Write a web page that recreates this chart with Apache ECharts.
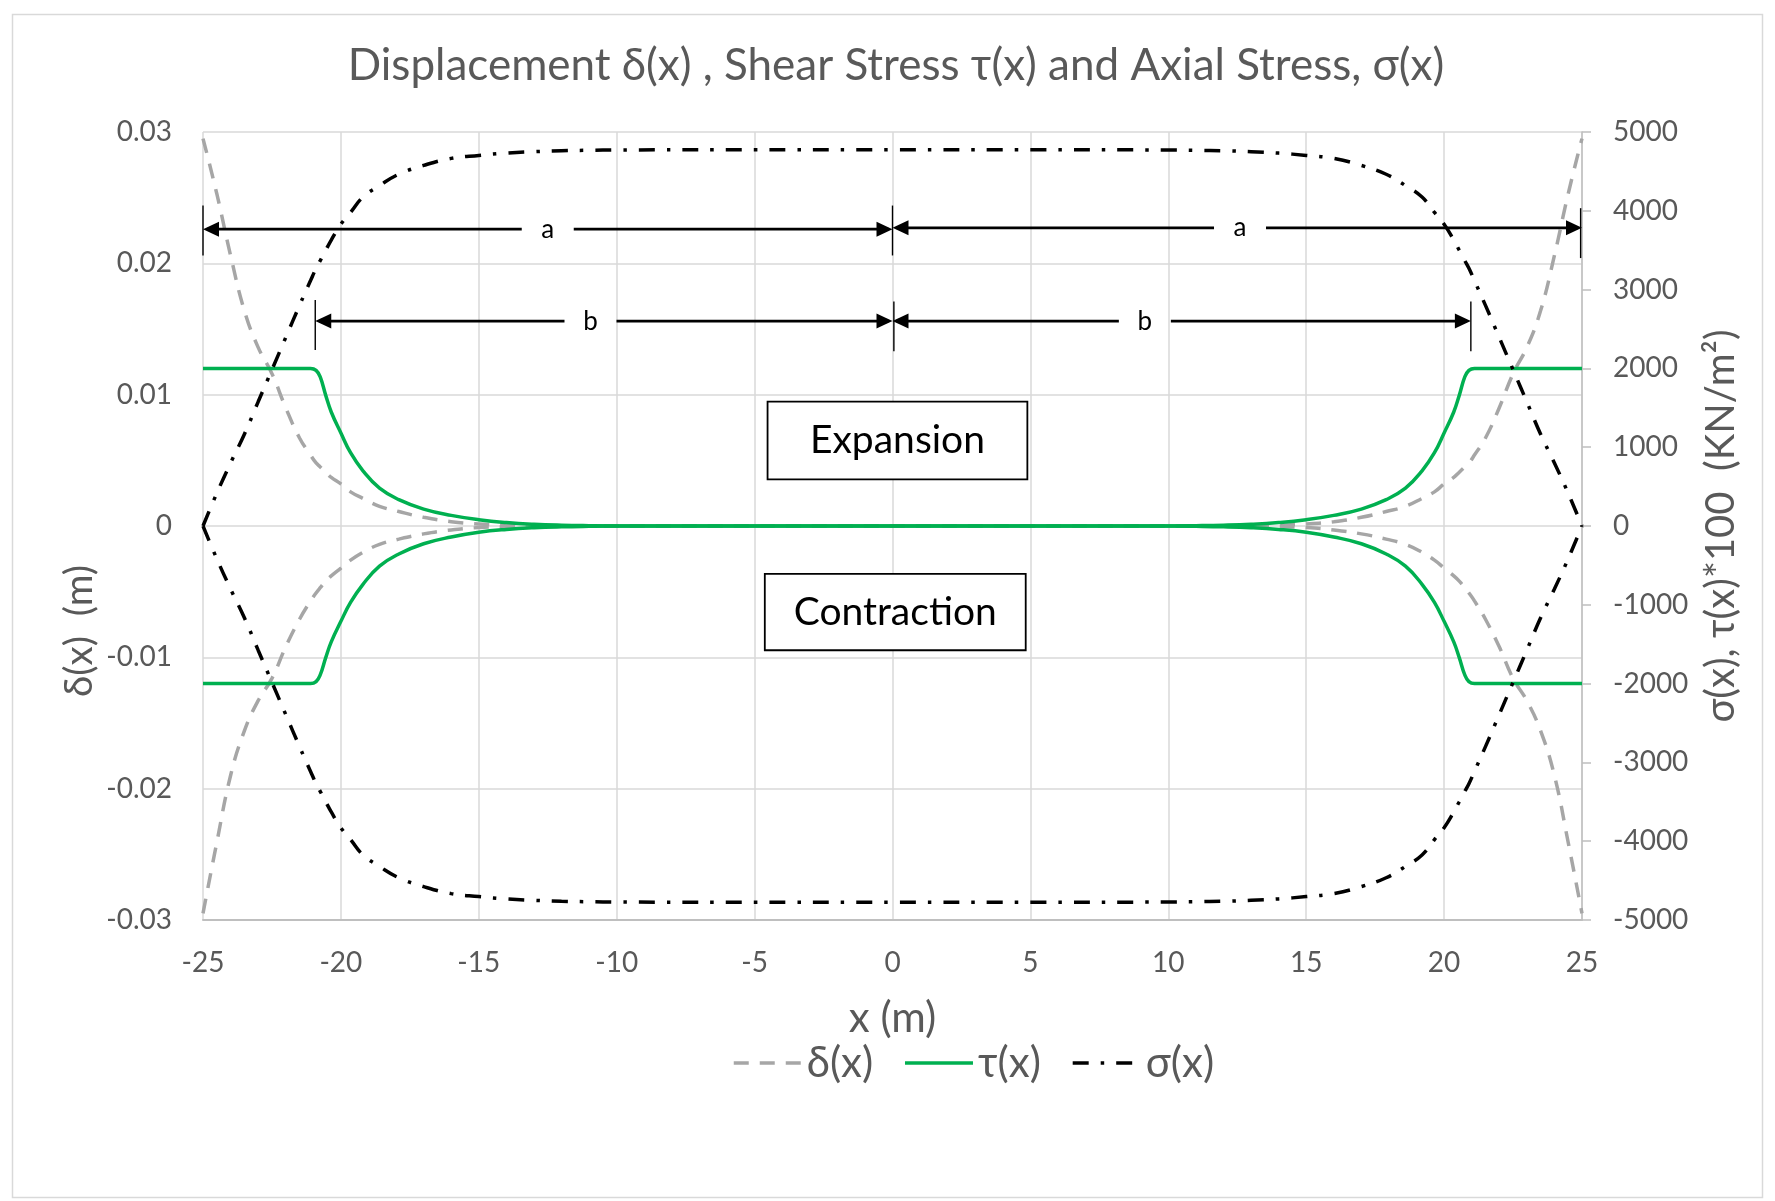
<!DOCTYPE html>
<html>
<head>
<meta charset="utf-8">
<script src="https://cdn.jsdelivr.net/npm/echarts@6/dist/echarts.min.js"></script>
<style>
html,body{margin:0;padding:0;background:#fff;}
#chart{width:1775px;height:1201px;}
</style>
</head>
<body>
<div id="chart"></div>
<script>
// ---------------- data ----------------
const xPos = [-25,-24.5,-24,-23.5,-23,-22.5,-22,-21.5,-21.1,-20.9,-20.75,-20.55,-20.35,-20,-19.65,-19.2,-18.6,-17.9,-17,-16,-15,-14,-13,-12,-11,-10,-5,
  0,
  5,10,11,12,13,14,15,16,17,17.9,18.6,19.2,19.65,20,20.35,20.55,20.75,20.9,21.1,21.5,22,22.5,23,23.5,24,24.5,25];

// displacement δ(x) (m), expansion / contraction branches
const deltaUpper = [0.0295,0.0253,0.0206,0.0164,0.0136,0.0116,0.0090,0.0067,0.0054,0.0048,0.0045,0.0041,0.0037,0.0032,0.0026,0.0021,0.0015,0.0011,0.00066,0.00033,0.00015,0.00007,0.00003,0.00001,0,0,0,
  0,
  0,0,0,0.00001,0.00003,0.00007,0.00015,0.00033,0.00066,0.0011,0.0015,0.0021,0.0026,0.0032,0.0037,0.0041,0.0045,0.0048,0.0054,0.0067,0.0090,0.0116,0.0136,0.0164,0.0206,0.0253,0.0295];
const deltaLower = [-0.0295,-0.0241,-0.0190,-0.0156,-0.0133,-0.0116,-0.0092,-0.0071,-0.0057,-0.0051,-0.0047,-0.0042,-0.0038,-0.0032,-0.0026,-0.0020,-0.0014,-0.0010,-0.0006,-0.0003,-0.00012,-0.00006,-0.00003,-0.00001,0,0,0,
  0,
  0,0,0,-0.00001,-0.00003,-0.00006,-0.00012,-0.0003,-0.0006,-0.0010,-0.0014,-0.0020,-0.0026,-0.0032,-0.0038,-0.0042,-0.0047,-0.0051,-0.0057,-0.0071,-0.0092,-0.0116,-0.0133,-0.0156,-0.0190,-0.0241,-0.0295];

// shear stress τ(x)*100 (KN/m²)
const tauUpper = [2000,2000,2000,2000,2000,2000,2000,2000,2000,1975,1891,1658,1447,1180,930,700,480,335,215,135,80,44,22,10,4,1,0,
  0,
  0,1,4,10,22,44,80,135,215,335,480,700,930,1180,1447,1658,1891,1975,2000,2000,2000,2000,2000,2000,2000,2000,2000];
const tauLower = [-2000,-2000,-2000,-2000,-2000,-2000,-2000,-2000,-2000,-1975,-1890,-1670,-1470,-1210,-970,-740,-510,-355,-225,-140,-80,-44,-22,-10,-4,-1,0,
  0,
  0,-1,-4,-10,-22,-44,-80,-140,-225,-355,-510,-740,-970,-1210,-1470,-1670,-1890,-1975,-2000,-2000,-2000,-2000,-2000,-2000,-2000,-2000,-2000];

// axial stress σ(x) (KN/m²)
const sigmaUpper = [0,415,800,1165,1576,1984,2392,2800,3115,3270,3368,3499,3629,3829,3980,4174,4320,4464,4576,4665,4703,4732,4750,4762,4768,4772,4775,
  4775,
  4775,4772,4768,4762,4750,4732,4703,4665,4576,4464,4320,4174,3980,3829,3629,3499,3368,3270,3115,2800,2392,1984,1576,1165,800,415,0];
const sigmaLower = [0,-415,-800,-1165,-1576,-1984,-2392,-2800,-3115,-3270,-3368,-3499,-3629,-3829,-3980,-4174,-4320,-4464,-4576,-4665,-4703,-4732,-4750,-4762,-4768,-4772,-4775,
  -4775,
  -4775,-4772,-4768,-4762,-4750,-4732,-4703,-4665,-4576,-4464,-4320,-4174,-3980,-3829,-3629,-3499,-3368,-3270,-3115,-2800,-2392,-1984,-1576,-1165,-800,-415,0];

const seriesNames = ['δ(x)', 'τ(x)', 'σ(x)'];
const titleText = 'Displacement δ(x) , Shear Stress τ(x) and Axial Stress, σ(x)';
const xAxisName = 'x (m)';
const leftAxisName = 'δ(x)  (m)';
const rightAxisName = 'σ(x), τ(x)*100  (KN/m²)';

// annotations (in data coordinates)
const dimLines = [
  {x0: -25, x1: 0, y: 0.0226, text: 'a', tx: -12.5},
  {x0: 0, x1: 25, y: 0.0227, text: 'a', tx: 12.6},
  {x0: -20.93, x1: 0, y: 0.0156, text: 'b', tx: -10.95},
  {x0: 0, x1: 20.97, y: 0.0156, text: 'b', tx: 9.15}
];
const dimTicks = [
  {x: -25, y0: 0.0206, y1: 0.0244},
  {x: 0, y0: 0.0206, y1: 0.0244},
  {x: 24.95, y0: 0.0204, y1: 0.0242},
  {x: -20.93, y0: 0.0134, y1: 0.0172},
  {x: 0.05, y0: 0.0133, y1: 0.0171},
  {x: 20.97, y0: 0.0133, y1: 0.0171}
];
const noteBoxes = [
  {x0: -4.53, x1: 4.89, y0: 0.00947, y1: 0.00355, text: 'Expansion'},
  {x0: -4.63, x1: 4.83, y0: -0.00364, y1: -0.00946, text: 'Contraction'}
];

// ---------------- chart ----------------
const FONT = 'Lato, "Open Sans", "Noto Sans", sans-serif';
const TXT = '#595959';
const GRAY = '#A6A6A6', GREEN = '#00B050', BLACK = '#000000';
const dashGray = [15, 11];
const dashDot = [16, 12, 3.5, 12];

function pairs(ys) { return xPos.map((x, i) => [x, ys[i]]); }

function lineSeries(name, ys, axis, color, type) {
  return {
    name: name, type: 'line', yAxisIndex: axis, data: pairs(ys),
    smooth: 0.45, symbol: 'none', showSymbol: false, animation: false,
    lineStyle: {color: color, width: 3.5, type: type},
    itemStyle: {color: color},
    emphasis: {disabled: true}
  };
}

const chart = echarts.init(document.getElementById('chart'), null, {renderer: 'canvas'});

chart.setOption({
  animation: false,
  backgroundColor: '#ffffff',
  textStyle: {fontFamily: FONT},
  title: {
    text: titleText, left: 896, textAlign: 'center', top: 44, padding: 0,
    textStyle: {fontFamily: FONT, fontSize: 44, fontWeight: 'normal', color: TXT}
  },
  legend: {
    data: seriesNames, left: 732, top: 1042, padding: 0, itemWidth: 68, itemHeight: 14, itemGap: 30,
    textStyle: {fontFamily: FONT, fontSize: 42, color: TXT},
    lineStyle: {width: 3.5},
    itemStyle: {color: 'rgba(0,0,0,0)', borderColor: 'rgba(0,0,0,0)', borderWidth: 0, opacity: 0},
    selectedMode: false
  },
  grid: {left: 203, right: 193, top: 132, bottom: 281, outerBoundsMode: 'none', containLabel: false},
  xAxis: {
    type: 'value', min: -25, max: 25, interval: 5,
    name: xAxisName, nameLocation: 'middle', nameGap: 77,
    nameTextStyle: {fontFamily: FONT, fontSize: 42, color: TXT},
    axisLine: {show: true, onZero: false, lineStyle: {color: '#BFBFBF', width: 2}},
    axisTick: {show: false},
    axisLabel: {fontFamily: FONT, fontSize: 28, color: TXT, margin: 29},
    splitLine: {show: true, lineStyle: {color: '#D9D9D9', width: 1.5}}
  },
  yAxis: [
    {
      type: 'value', min: -0.03, max: 0.03, interval: 0.01, position: 'left',
      axisLine: {show: false}, axisTick: {show: false},
      axisLabel: {fontFamily: FONT, fontSize: 28, color: TXT, margin: 31},
      splitLine: {show: true, lineStyle: {color: '#D9D9D9', width: 1.5}}
    },
    {
      type: 'value', min: -5000, max: 5000, interval: 1000, position: 'right',
      axisLine: {show: true, lineStyle: {color: '#BFBFBF', width: 1.5}},
      axisTick: {show: true, length: 9, lineStyle: {color: '#BFBFBF', width: 1.5}},
      axisLabel: {fontFamily: FONT, fontSize: 28, color: TXT, margin: 31, formatter: v => String(v)},
      splitLine: {show: false}
    }
  ],
  series: [
    lineSeries(seriesNames[0], deltaUpper, 0, GRAY, dashGray),
    lineSeries(seriesNames[0], deltaLower, 0, GRAY, dashGray),
    lineSeries(seriesNames[1], tauUpper, 1, GREEN, 'solid'),
    lineSeries(seriesNames[1], tauLower, 1, GREEN, 'solid'),
    lineSeries(seriesNames[2], sigmaUpper, 1, BLACK, dashDot),
    lineSeries(seriesNames[2], sigmaLower, 1, BLACK, dashDot)
  ]
});

// ---------------- annotations ----------------
function px(x, y) { return chart.convertToPixel({xAxisIndex: 0, yAxisIndex: 0}, [x, y]); }

const g = [];
// chart-area border
g.push({type: 'rect', silent: true, z: -1,
  shape: {x: 12.5, y: 14.5, width: 1750, height: 1183},
  style: {fill: null, stroke: '#D9D9D9', lineWidth: 1.5}});

// axis names
g.push({type: 'text', silent: true, x: 80, y: 631, rotation: Math.PI / 2,
  style: {text: leftAxisName, font: '38.5px ' + FONT, fill: TXT, align: 'center', verticalAlign: 'middle', textAlign: 'center', textVerticalAlign: 'middle'}});
g.push({type: 'text', silent: true, x: 1721, y: 526, rotation: Math.PI / 2,
  style: {text: rightAxisName, font: '40px ' + FONT, fill: TXT, align: 'center', verticalAlign: 'middle', textAlign: 'center', textVerticalAlign: 'middle'}});

const GAP = 26, AH = 16, AW = 7.5;
dimLines.forEach(d => {
  const a = px(d.x0, d.y), b = px(d.x1, d.y), t = px(d.tx, d.y);
  const y = a[1];
  g.push({type: 'line', silent: true, z: 100, shape: {x1: a[0] + 4, y1: y, x2: t[0] - GAP, y2: y}, style: {stroke: BLACK, lineWidth: 2.8}});
  g.push({type: 'line', silent: true, z: 100, shape: {x1: t[0] + GAP, y1: y, x2: b[0] - 4, y2: y}, style: {stroke: BLACK, lineWidth: 2.8}});
  g.push({type: 'polygon', silent: true, z: 101, shape: {points: [[a[0], y], [a[0] + AH, y - AW], [a[0] + AH, y + AW]]}, style: {fill: BLACK}});
  g.push({type: 'polygon', silent: true, z: 101, shape: {points: [[b[0], y], [b[0] - AH, y - AW], [b[0] - AH, y + AW]]}, style: {fill: BLACK}});
  g.push({type: 'text', silent: true, z: 101, x: t[0], y: y,
    style: {text: d.text, font: '26px ' + FONT, fill: BLACK, align: 'center', verticalAlign: 'middle', textAlign: 'center', textVerticalAlign: 'middle'}});
});
dimTicks.forEach(k => {
  const p0 = px(k.x, k.y0), p1 = px(k.x, k.y1);
  g.push({type: 'line', silent: true, z: 100, shape: {x1: p0[0], y1: p0[1], x2: p1[0], y2: p1[1]}, style: {stroke: BLACK, lineWidth: 1.4}});
});
noteBoxes.forEach(bx => {
  const p0 = px(bx.x0, bx.y0), p1 = px(bx.x1, bx.y1);
  g.push({type: 'rect', silent: true, z: 102,
    shape: {x: p0[0], y: p0[1], width: p1[0] - p0[0], height: p1[1] - p0[1]},
    style: {fill: '#ffffff', stroke: BLACK, lineWidth: 1.8}});
  g.push({type: 'text', silent: true, z: 103, x: (p0[0] + p1[0]) / 2, y: (p0[1] + p1[1]) / 2,
    style: {text: bx.text, font: '39px ' + FONT, fill: BLACK, align: 'center', verticalAlign: 'middle', textAlign: 'center', textVerticalAlign: 'middle'}});
});

chart.setOption({graphic: {elements: g}});
</script>
</body>
</html>
